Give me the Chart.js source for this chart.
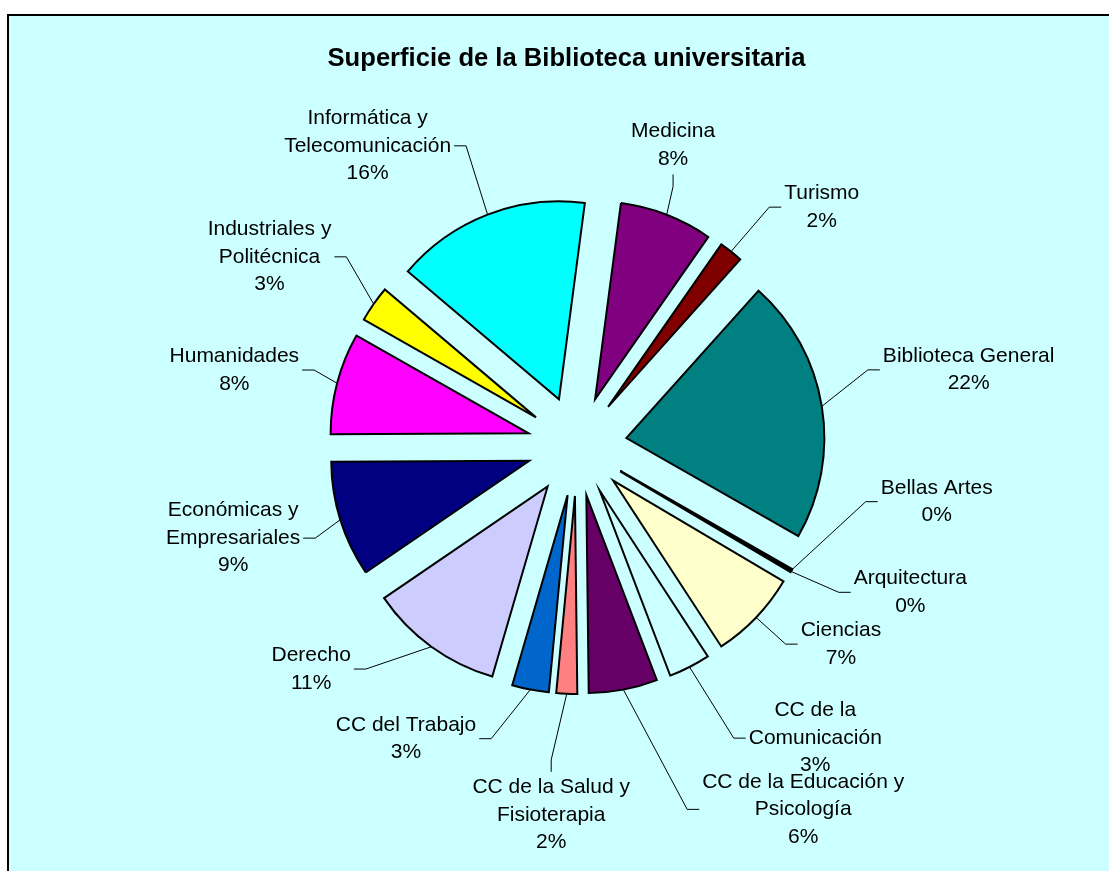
<!DOCTYPE html>
<html>
<head>
<meta charset="utf-8">
<title>Superficie de la Biblioteca universitaria</title>
<script src="https://cdn.jsdelivr.net/npm/chart.js@4.4.1/dist/chart.umd.min.js"></script>
<style>
    html, body { margin: 0; padding: 0; background: #fff; overflow: hidden; }
    #marco { position: absolute; left: 7px; top: 14px; width: 1120px; height: 880px;
             background: #ccffff; border-left: 2px solid #000; border-top: 2px solid #000; }
    #grafica { position: absolute; left: 0; top: 0; }
</style>
</head>
<body>
<div id="marco"></div>
<canvas id="grafica" width="1109" height="871"></canvas>
<script>
const titulo = "Superficie de la Biblioteca universitaria";

// categorias en el orden de la serie (el primer sector empieza hacia las 4)
const categorias = [
    "Bellas Artes",
    "Arquitectura",
    "Ciencias",
    ["CC de la", "Comunicación"],
    ["CC de la Educación y", "Psicología"],
    ["CC de la Salud y", "Fisioterapia"],
    "CC del Trabajo",
    "Derecho",
    ["Económicas y", "Empresariales"],
    "Humanidades",
    ["Industriales y", "Politécnica"],
    ["Informática y", "Telecomunicación"],
    "Medicina",
    "Turismo",
    "Biblioteca General"
];

// porcentaje de superficie
const valores = [0.125, 0.125, 7.3, 3.4, 5.6, 1.7, 3.0, 10.95, 9.45, 8.3, 2.95, 15.9, 7.6, 1.95, 21.6];

const colores = [
    "#9999ff", "#993366", "#ffffcc", "#ccffff", "#660066", "#ff8080", "#0066cc", "#ccccff",
    "#000080", "#ff00ff", "#ffff00", "#00ffff", "#800080", "#800000", "#008080"
];

// donde quedan las etiquetas: angulo (grados, desde las 12 en sentido horario) y distancia al centro
const etiquetaAngulo = [98.8, 113.7, 126.9, 140.8, 148.1, 184.0, 210.3, 230.0, 255.0, 282.5, 301.6, 325.1, 17.7, 45.7, 79.0];
const etiquetaDistancia = [364, 364, 330, 377, 428, 370, 339, 347, 356, 351, 361, 366, 316, 342, 399];

const separacion = 50;   // sectores separados del centro
const altoLinea = 27.5;
const fuente = '"Liberation Sans", Arial, sans-serif';

function centro(chart) {
    const a = chart.chartArea;
    return { x: (a.left + a.right) / 2, y: (a.top + a.bottom) / 2 };
}

// separa cada sector a lo largo de su bisectriz
const explosion = {
    id: "explosion",
    afterDatasetUpdate(chart, args) {
        const c = centro(chart);
        args.meta.data.forEach(arc => {
            const medio = (arc.startAngle + arc.endAngle) / 2;
            arc.x = c.x + Math.cos(medio) * separacion;
            arc.y = c.y + Math.sin(medio) * separacion;
        });
    }
};

// etiquetas con nombre y porcentaje, y sus lineas guia
const etiquetas = {
    id: "etiquetas",
    afterDatasetsDraw(chart) {
        const ctx = chart.ctx;
        const c = centro(chart);
        const arcos = chart.getDatasetMeta(0).data;
        const total = valores.reduce((a, b) => a + b, 0);

        ctx.save();
        ctx.font = "21px " + fuente;
        ctx.textAlign = "center";
        ctx.textBaseline = "middle";
        ctx.strokeStyle = "#000";
        ctx.fillStyle = "#000";
        ctx.lineWidth = 1;

        arcos.forEach((arc, i) => {
            const lineas = [].concat(categorias[i], Math.round(valores[i] / total * 100) + "%");
            const ang = etiquetaAngulo[i] * Math.PI / 180;
            const ex = c.x + Math.sin(ang) * etiquetaDistancia[i];
            const ey = c.y - Math.cos(ang) * etiquetaDistancia[i];
            const ancho = Math.max(...lineas.map(t => ctx.measureText(t).width));
            const alto = lineas.length * altoLinea;

            const medio = (arc.startAngle + arc.endAngle) / 2;
            const px = arc.x + Math.cos(medio) * arc.outerRadius;
            const py = arc.y + Math.sin(medio) * arc.outerRadius;

            ctx.beginPath();
            if (px >= ex - ancho / 2 && px <= ex + ancho / 2) {
                const abajo = py > ey ? 1 : -1;
                const sy = ey + abajo * (alto / 2 + 2);
                ctx.moveTo(ex, sy);
                ctx.lineTo(ex, sy + abajo * 12);
            } else {
                const lado = px > ex ? 1 : -1;
                const sx = ex + lado * (ancho / 2 + 3);
                ctx.moveTo(sx, ey);
                ctx.lineTo(sx + lado * 12, ey);
            }
            ctx.lineTo(px, py);
            ctx.stroke();

            lineas.forEach((t, k) => {
                ctx.fillText(t, ex, ey + (k - (lineas.length - 1) / 2) * altoLinea);
            });
        });
        ctx.restore();
    }
};

const cabecera = {
    id: "cabecera",
    afterDraw(chart) {
        const ctx = chart.ctx;
        ctx.save();
        ctx.font = "bold 25.6px " + fuente;
        ctx.textAlign = "center";
        ctx.textBaseline = "alphabetic";
        ctx.fillStyle = "#000";
        ctx.fillText(titulo, 566.5, 66);
        ctx.restore();
    }
};

new Chart(document.getElementById("grafica").getContext("2d"), {
    type: "pie",
    data: {
        labels: categorias,
        datasets: [{
            data: valores,
            backgroundColor: colores,
            borderColor: "#000",
            borderWidth: 2,
            borderJoinStyle: "miter"
        }]
    },
    options: {
        responsive: false,
        animation: false,
        events: [],
        rotation: 119.7,
        radius: 198,
        layout: { padding: { left: 45, right: 0, top: 21, bottom: 0 } },
        plugins: {
            legend: { display: false },
            tooltip: { enabled: false },
            title: { display: false }
        }
    },
    plugins: [explosion, etiquetas, cabecera]
});
</script>
</body>
</html>
